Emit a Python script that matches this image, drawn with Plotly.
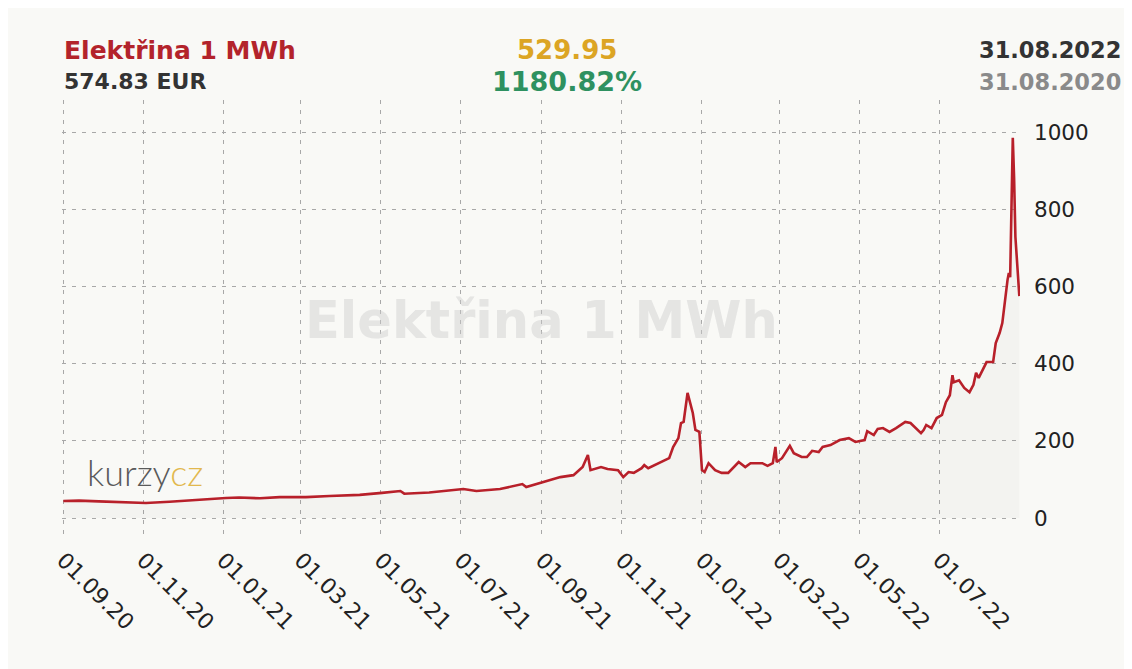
import plotly.graph_objects as go

# price of 1 MWh (EUR)
dates = [
    "2020-09-01", "2020-09-13", "2020-09-28", "2020-10-14", "2020-11-03", "2020-11-21",
    "2020-12-06", "2020-12-21", "2021-01-03", "2021-01-13", "2021-01-29", "2021-02-13",
    "2021-03-05", "2021-03-23", "2021-04-15", "2021-05-02", "2021-05-11", "2021-05-16",
    "2021-05-19", "2021-06-07", "2021-07-03", "2021-07-13", "2021-07-31", "2021-08-17",
    "2021-08-20", "2021-09-02", "2021-09-15", "2021-09-25", "2021-10-02", "2021-10-06",
    "2021-10-08", "2021-10-16", "2021-10-21", "2021-10-29", "2021-11-02", "2021-11-06",
    "2021-11-10", "2021-11-16", "2021-11-18", "2021-11-21", "2021-11-26", "2021-12-03",
    "2021-12-07", "2021-12-10", "2021-12-14", "2021-12-16", "2021-12-18", "2021-12-21",
    "2021-12-24", "2021-12-25", "2021-12-27", "2021-12-30", "2022-01-01", "2022-01-03",
    "2022-01-06", "2022-01-11", "2022-01-16", "2022-01-21", "2022-01-29", "2022-02-03",
    "2022-02-07", "2022-02-16", "2022-02-20", "2022-02-24", "2022-02-26", "2022-02-27",
    "2022-03-03", "2022-03-09", "2022-03-12", "2022-03-18", "2022-03-22", "2022-03-26",
    "2022-03-31", "2022-04-03", "2022-04-09", "2022-04-16", "2022-04-23", "2022-04-28",
    "2022-05-05", "2022-05-07", "2022-05-12", "2022-05-15", "2022-05-19", "2022-05-24",
    "2022-05-29", "2022-06-05", "2022-06-09", "2022-06-17", "2022-06-19", "2022-06-21",
    "2022-06-25", "2022-06-29", "2022-07-03", "2022-07-06", "2022-07-09", "2022-07-11",
    "2022-07-12", "2022-07-16", "2022-07-20", "2022-07-24", "2022-07-27", "2022-07-29",
    "2022-07-31", "2022-08-06", "2022-08-11", "2022-08-13", "2022-08-16", "2022-08-18",
    "2022-08-22", "2022-08-23", "2022-08-24", "2022-08-25", "2022-08-26", "2022-08-27",
    "2022-08-28", "2022-08-31",
]
prices = [
    44, 45, 43, 42, 39, 42,
    46, 50, 52, 53, 51, 54,
    54, 57, 60, 65, 69, 70,
    63, 66, 75, 70, 75, 88,
    80, 93, 106, 111, 132, 163,
    124, 132, 127, 124, 106, 119,
    117, 129, 137, 129, 137, 150,
    155, 184, 207, 246, 249, 324,
    280, 272, 228, 223, 124, 119,
    142, 124, 117, 117, 145, 132,
    142, 142, 135, 142, 184, 145,
    155, 187, 168, 158, 158, 174,
    171, 184, 189, 202, 207, 197,
    202, 225, 215, 231, 233, 223,
    233, 249, 246, 220, 228, 241,
    233, 259, 267, 300, 318, 370,
    352, 357, 337, 326, 345, 376,
    363, 404, 404, 453, 480, 505,
    617, 635, 624, 858, 985, 880,
    728, 575,
]

name = "Elektřina 1 MWh"
last_price = "574.83 EUR"
change_abs = "529.95"
change_pct = "1180.82%"
date_to = "31.08.2022"
date_from = "31.08.2020"

font = "DejaVu Sans, Verdana, sans-serif"
grid = dict(showgrid=True, gridcolor="#a8a8a8", gridwidth=1, griddash="4px,6px", zeroline=False,
            showline=False, ticks="")

fig = go.Figure()
fig.add_trace(go.Scatter(x=dates, y=prices, mode="lines", fill="tozeroy",
                         fillcolor="rgba(0,0,0,0.025)",
                         line=dict(color="#b8202a", width=2.6), hoverinfo="x+y"))

fig.update_layout(
    width=1124, height=661,
    margin=dict(l=54, r=112, t=92, b=129),
    paper_bgcolor="#f9f9f6", plot_bgcolor="#f9f9f6",
    font=dict(family=font, color="#222"),
    showlegend=False,
    xaxis=dict(grid, type="date", range=["2020-08-31", "2022-08-31 12:00"],
               tick0="2020-09-01", dtick="M2", tickformat="%d.%m.%y",
               tickangle=45, tickfont=dict(size=22, color="#222"), ticklabelstandoff=2),
    yaxis=dict(grid, side="right", range=[-57, 1083], tickvals=[0, 200, 400, 600, 800, 1000],
               tickfont=dict(size=21.5, color="#222"), ticklabelstandoff=13),
)

notes = [
    (name, 0.0, 1.1136, "left", "#b3232b", 25),
    (last_price, 0.0, 1.041, "left", "#333333", 22),
    (change_abs, 0.527, 1.1136, "center", "#dca524", 26),
    (change_pct, 0.527, 1.041, "center", "#2e9160", 27),
    (date_to, 1.108, 1.1136, "right", "#333333", 22.5),
    (date_from, 1.108, 1.041, "right", "#8a8a8a", 22.5),
]
for text, x, y, anchor, color, size in notes:
    fig.add_annotation(text=f"<b>{text}</b>", xref="paper", yref="paper", x=x, y=y,
                       xanchor=anchor, yanchor="middle", showarrow=False,
                       font=dict(size=size, color=color, family=font))

# watermark
fig.add_annotation(text=f"<b>{name}</b>", xref="paper", yref="paper", x=0.5, y=0.5,
                   showarrow=False, font=dict(size=51, color="rgba(205,205,205,0.45)", family=font))
# logo
fig.add_annotation(text="<span style='color:#5a5a5a'>kurzy</span><span style='color:#e2b84e'>cz</span>",
                   xref="paper", yref="paper", x=0.024, y=0.155, xanchor="left", yanchor="middle",
                   showarrow=False, font=dict(size=36, family="Lato, Open Sans, sans-serif", weight=300))

fig.write_html("out.html")
